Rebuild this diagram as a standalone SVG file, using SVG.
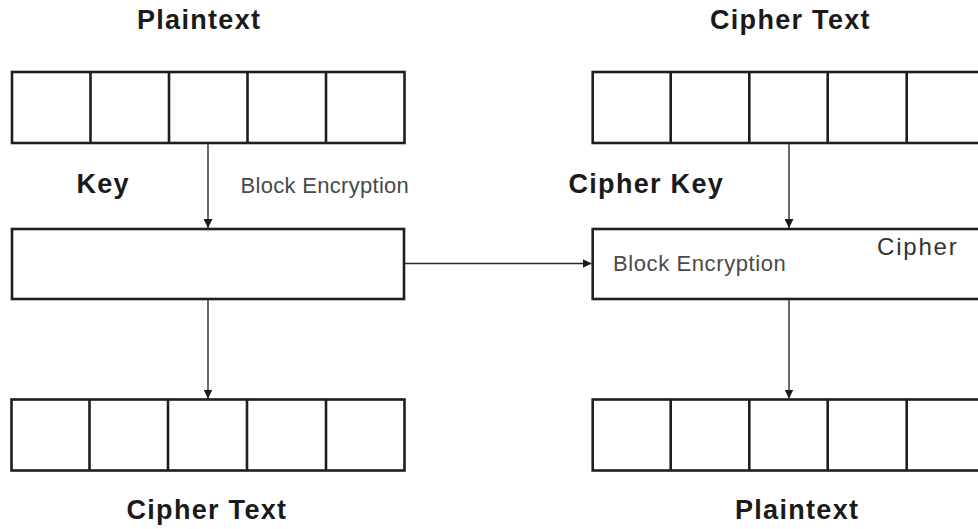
<svg xmlns="http://www.w3.org/2000/svg" width="978" height="529" viewBox="0 0 978 529">
<defs>
<style>
.box{fill:#fff;stroke:#1e1e1e;stroke-width:2.6}
.cell{fill:none;stroke:#1e1e1e;stroke-width:2.6}
.conn{fill:none;stroke:#2a2a2a;stroke-width:1.4}
.big{font-family:"Liberation Sans",Arial,sans-serif;font-weight:bold;font-size:27px;letter-spacing:1.3px;fill:#1a1a1a}
.small{font-family:"Liberation Sans",Arial,sans-serif;font-size:22px;letter-spacing:0.3px;fill:#4a4a4a}
.mid{font-family:"Liberation Sans",Arial,sans-serif;font-size:24px;letter-spacing:1.8px;fill:#333}
</style>
<marker id="ah" viewBox="0 0 10 10" refX="10" refY="5" markerWidth="9" markerHeight="9" markerUnits="userSpaceOnUse" orient="auto">
<path d="M0,0 L10,5 L0,10 z" fill="#1a1a1a"/>
</marker>
</defs>
<rect width="978" height="529" fill="#fff"/>

<g id="plaintext-top">
<rect class="box" x="12" y="72" width="392.5" height="71"/>
<path class="cell" d="M90.5,72V143M169,72V143M247.5,72V143M326,72V143"/>
</g>
<g id="ciphertext-top">
<rect class="box" x="592.7" y="72" width="400" height="71"/>
<path class="cell" d="M670.7,72V143M749.3,72V143M827.7,72V143M906.7,72V143"/>
</g>
<g id="key-block">
<rect class="box" x="12" y="229" width="392" height="70"/>
</g>
<g id="cipher-block">
<rect class="box" x="592.7" y="229" width="400" height="70"/>
</g>
<g id="ciphertext-bottom">
<rect class="box" x="11.5" y="399.5" width="393" height="71"/>
<path class="cell" d="M89.5,399.5V470.5M168,399.5V470.5M247,399.5V470.5M326,399.5V470.5"/>
</g>
<g id="plaintext-bottom">
<rect class="box" x="592.7" y="399.5" width="400" height="71"/>
<path class="cell" d="M670.7,399.5V470.5M749.3,399.5V470.5M827.7,399.5V470.5M906.7,399.5V470.5"/>
</g>

<g id="connectors">
<line class="conn" x1="208" y1="144" x2="208" y2="228" marker-end="url(#ah)"/>
<line class="conn" x1="789" y1="144" x2="789" y2="228" marker-end="url(#ah)"/>
<line class="conn" x1="405" y1="263.5" x2="591.5" y2="263.5" marker-end="url(#ah)"/>
<line class="conn" x1="208" y1="300" x2="208" y2="398.5" marker-end="url(#ah)"/>
<line class="conn" x1="789" y1="300" x2="789" y2="398.5" marker-end="url(#ah)"/>
</g>

<g id="labels">
<text class="big" x="137" y="29">Plaintext</text>
<text class="big" x="710" y="29">Cipher Text</text>
<text class="big" x="76.5" y="192.5">Key</text>
<text class="small" x="240.5" y="193">Block Encryption</text>
<text class="big" x="568.5" y="193">Cipher Key</text>
<text class="mid" x="877" y="255">Cipher</text>
<text class="small" x="613" y="270.5" style="letter-spacing:0.6px">Block Encryption</text>
<text class="big" x="126.5" y="519">Cipher Text</text>
<text class="big" x="735" y="519">Plaintext</text>
</g>
</svg>
